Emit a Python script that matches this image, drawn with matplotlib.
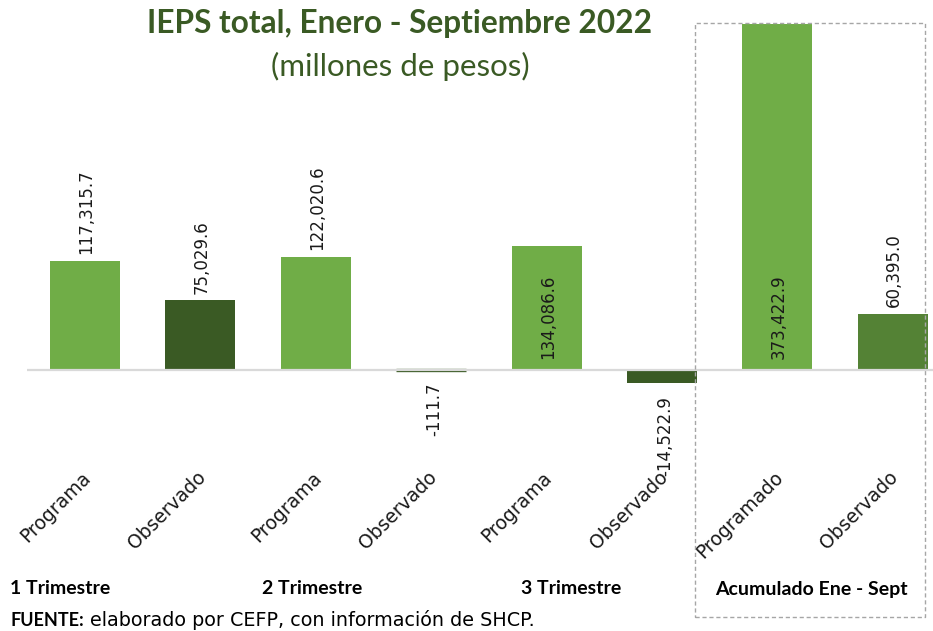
import matplotlib
matplotlib.use("Agg")
import matplotlib.pyplot as plt
from matplotlib.patches import Rectangle

# ---- data ----
categories = ["Programa", "Observado", "Programa", "Observado",
              "Programa", "Observado", "Programado", "Observado"]
values = [117315.7, 75029.6, 122020.6, -111.7,
          134086.6, -14522.9, 373422.9, 60395.0]
value_labels = ["117,315.7", "75,029.6", "122,020.6", "-111.7",
                "134,086.6", "-14,522.9", "373,422.9", "60,395.0"]
groups = ["1 Trimestre", "2 Trimestre", "3 Trimestre", "Acumulado Ene - Sept"]

title = "IEPS total, Enero - Septiembre 2022"
subtitle = "(millones de pesos)"

colors = ["#70AD47", "#3A5A24", "#70AD47", "#3A5A24",
          "#70AD47", "#3A5A24", "#70AD47", "#548235"]
inside_base = {4, 6}

W, H = 933, 631
fig = plt.figure(figsize=(W / 100, H / 100), dpi=100)

slot = 115.4
left_px = 27
ax = fig.add_axes([left_px / W, 71 / H, (W - left_px) / W, 540 / H])
lo = -58 / slot
ax.set_xlim(lo, lo + (W - left_px) / slot)
scale = 0.927 / 1000.0  # px per unit
ax.set_ylim(-190 / scale, 350 / scale)
ax.axis("off")

x = list(range(len(values)))
ax.axhline(0, color="#D9D9D9", lw=1.6, zorder=3)
bars = ax.bar(x, values, width=70 / slot, color=colors, zorder=2)
for b, v, c in zip(bars, values, colors):
    if abs(v) < 1000:  # make a tiny bar visible as a thin line
        b.set_edgecolor(c)
        b.set_linewidth(2.4)

lab_font = dict(family="DejaVu Sans", fontsize=12, color="#1a1a1a")
for i, (v, s) in enumerate(zip(values, value_labels)):
    if i in inside_base:
        ax.annotate(s, (i, 0), xytext=(1, 8), textcoords="offset points",
                    rotation=90, ha="center", va="bottom", **lab_font)
    elif v >= 0:
        ax.annotate(s, (i, v), xytext=(1, 5), textcoords="offset points",
                    rotation=90, ha="center", va="bottom", **lab_font)
    else:
        ax.annotate(s, (i, v), xytext=(2, -9), textcoords="offset points",
                    rotation=90, ha="center", va="top", **lab_font)

# category tick labels (rotated 45)
for i, c in enumerate(categories):
    ax.annotate(c, (i, H - 468), xycoords=("data", "figure pixels"),
                xytext=(-3, 0), textcoords="offset points",
                rotation=45, rotation_mode="anchor", ha="right", va="top",
                family="DejaVu Sans", fontsize=13.5, color="#1a1a1a")

# group labels
grp_font = dict(family=["Lato", "DejaVu Sans"],
                fontweight="bold", fontsize=14, color="#000000")
group_cx = [60.5, 312.5, 571.5, 811]
for gx, g in zip(group_cx, groups):
    fig.text(gx / W, 1 - 589 / H, g, ha="center", va="center", **grp_font)

# source line
t1 = fig.text(11 / W, 1 - 620 / H, "FUENTE:", ha="left", va="center",
              family=["Lato", "DejaVu Sans"],
              fontweight="bold", fontsize=13, color="#000000")
fig.canvas.draw()
bb = t1.get_window_extent()
fig.text((bb.x1 + 5) / W, 1 - 620 / H,
         "elaborado por CEFP, con información de SHCP.",
         ha="left", va="center", family="DejaVu Sans", fontsize=13.8,
         color="#000000")

# title
fig.text(400 / W, 1 - 24 / H, title, ha="center", va="center",
         family=["Lato", "DejaVu Sans"], fontweight="bold", fontsize=22.8,
         color="#3A5A24")
fig.text(400 / W, 1 - 66 / H, subtitle, ha="center", va="center",
         family=["Lato", "DejaVu Sans"], fontweight="normal", fontsize=22.5,
         color="#3A5A24")

# dashed box
fig.patches.append(Rectangle((695 / W, 1 - 617 / H), 230 / W, 594 / H,
                             transform=fig.transFigure, fill=False,
                             edgecolor="#A6A6A6", lw=1, ls=(0, (3, 2)),
                             zorder=5))

fig.savefig("out.png", dpi=100)
